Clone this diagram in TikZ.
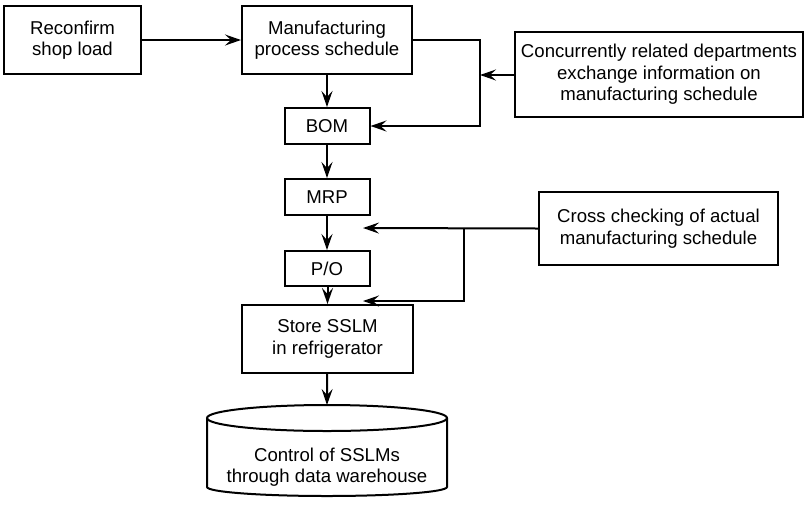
\documentclass[tikz,border=0pt]{standalone}
\usepackage{fontspec}
\setmainfont{Liberation Sans}
\usetikzlibrary{arrows.meta}

\begin{document}
\begin{tikzpicture}[
  x=0.5pt,
  y=-0.5pt,
  line cap=butt,
  font=\fontsize{9.3}{10.8}\selectfont,
  box/.style={draw, line width=1pt, rectangle, align=center, inner sep=0pt},
  arr/.style={-{Stealth[length=8pt, width=5.5pt, inset=3pt]}, line width=1pt},
  ln/.style={line width=1pt},
]

\useasboundingbox (0,0) rectangle (804,505);

% 上部：车间负荷与制造进度
\node[box, minimum width=68.5pt, minimum height=34pt] (reconfirm) at (72.5,40)
  {Reconfirm\\shop load};
\node[box, minimum width=85pt, minimum height=34pt] (mfgsched) at (327,40)
  {Manufacturing\\process schedule};
\node[box, minimum width=144pt, minimum height=42.5pt] (concur) at (659,74.5)
  {Concurrently related departments\\exchange information on\\manufacturing schedule};

% 中间的一列小框
\node[box, minimum width=42.5pt, minimum height=18pt] (bom) at (327,126) {BOM};
\node[box, minimum width=42.5pt, minimum height=18pt] (mrp) at (327,197) {MRP};
\node[box, minimum width=42.5pt, minimum height=17.5pt] (po) at (327,268.5) {P/O};

\node[box, minimum width=119.5pt, minimum height=36.5pt] (crosschk) at (658.5,228.5)
  {Cross checking of actual\\manufacturing schedule};

\node[box, minimum width=85.5pt, minimum height=34pt] (store) at (327.5,339)
  {Store SSLM\\in refrigerator};

% 数据仓库（圆柱）
\draw[ln] (207,418) -- (207,487) arc[start angle=180, end angle=0, x radius=120, y radius=9]
  -- (447,418);
\draw[ln] (327,418) ellipse[x radius=120, y radius=13];
\coordinate (dwtop) at (327,405);
\node[align=center] (dwhouse) at (327,467) {Control of SSLMs\\through data warehouse};

% 连接线
\coordinate (j1) at (480,40);
\coordinate (j2) at (464,228);
\coordinate (c1) at (363,228);
\coordinate (c2) at (363,301);

\draw[arr] (reconfirm) -- (mfgsched);
\draw[arr] (mfgsched) -- (bom);
\draw[arr] (mfgsched.east) -- (j1) |- (bom.east);
\draw[arr] (concur.west |- 0,75) -- (j1 |- 0,75);

\draw[arr] (bom) -- (mrp);
\draw[arr] (mrp) -- (po);
\draw[arr] (po.south -| store.north) -- (store.north);
\draw[arr] (store) -- (dwtop);

\draw[arr] (crosschk.west) -- (c1);
\draw[arr] (j2) |- (c2);

\end{tikzpicture}
\end{document}
